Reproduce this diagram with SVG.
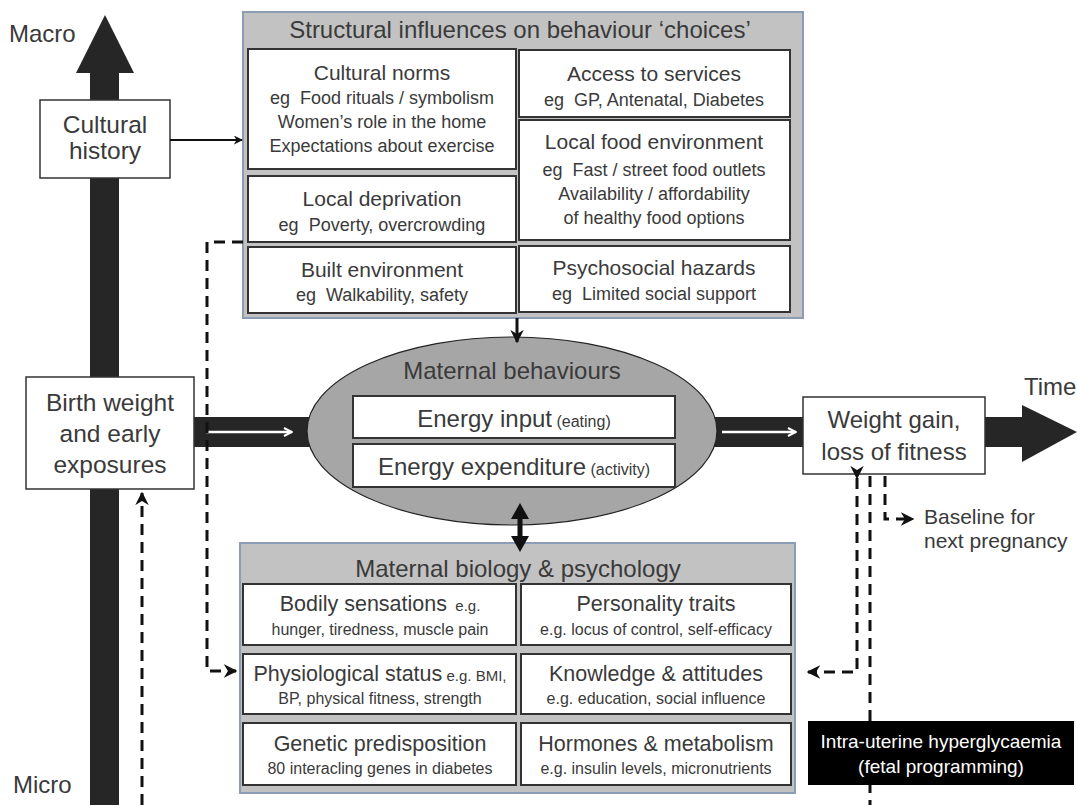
<svg xmlns="http://www.w3.org/2000/svg" width="1077" height="805" viewBox="0 0 1077 805">
<style>
text{font-family:"Liberation Sans",Arial,sans-serif;fill:#3a3a3a;white-space:pre}
.t{font-size:24px}
.big{font-size:24.5px}
.h{font-size:21px}
.s{font-size:18px}
.bh{font-size:21.5px}
.bs{font-size:16px}
.xs{font-size:15px}
.grp{fill:#c2c2c2;stroke:#8c9cb4;stroke-width:2}
.in{fill:#fff;stroke:#333;stroke-width:2}
.dash{fill:none;stroke:#111;stroke-width:3;stroke-dasharray:11 7}
.box{fill:#fff;stroke:#333;stroke-width:1.5}
</style>
<defs>
<marker id="ah" viewBox="0 0 10 10" refX="9" refY="5" markerWidth="4.5" markerHeight="4.5" orient="auto" markerUnits="strokeWidth">
<path d="M0,0 L10,5 L0,10 L3,5 z" fill="#111"/>
</marker>
<marker id="wh" viewBox="0 0 10 10" refX="9" refY="5" markerWidth="4" markerHeight="5" orient="auto" markerUnits="strokeWidth">
<path d="M1,1 L9,5 L1,9" fill="none" stroke="#fff" stroke-width="2"/>
</marker>
</defs>
<rect width="1077" height="805" fill="#fff"/>
<g id="axes">
<rect x="90" y="70" width="29" height="735" fill="#262626"/>
<polygon points="76,73 105,15 134,73" fill="#262626"/>
<rect x="194" y="417" width="116" height="30" fill="#262626"/>
<rect x="714" y="417" width="90" height="30" fill="#262626"/>
<rect x="984" y="417" width="42" height="30" fill="#262626"/>
<polygon points="1022,405 1077,432 1022,462" fill="#262626"/>
<text x="9" y="42" class="t">Macro</text>
<text x="13" y="793" class="t">Micro</text>
<text x="1024" y="395" class="t">Time</text>
</g>
<g id="cultural-history">
<rect x="40" y="100" width="130" height="78" class="box"/>
<text x="105" y="133" class="big" text-anchor="middle">Cultural</text>
<text x="105" y="159" class="big" text-anchor="middle">history</text>
</g>
<g id="structural">
<rect x="243" y="12" width="560" height="306" class="grp"/>
<text x="520" y="38" class="t" text-anchor="middle">Structural influences on behaviour ‘choices’</text>
<g id="cultural-norms">
<rect x="248" y="49" width="268" height="120" class="in"/>
<text x="382" y="80" class="h" text-anchor="middle">Cultural norms</text>
<text x="382" y="104" class="s" text-anchor="middle">eg  Food rituals / symbolism</text>
<text x="382" y="128" class="s" text-anchor="middle">Women’s role in the home</text>
<text x="382" y="152" class="s" text-anchor="middle">Expectations about exercise</text>
</g>
<g id="local-deprivation">
<rect x="248" y="176" width="268" height="66" class="in"/>
<text x="382" y="206" class="h" text-anchor="middle">Local deprivation</text>
<text x="382" y="231" class="s" text-anchor="middle">eg  Poverty, overcrowding</text>
</g>
<g id="built-environment">
<rect x="248" y="247" width="268" height="66" class="in"/>
<text x="382" y="277" class="h" text-anchor="middle">Built environment</text>
<text x="382" y="301" class="s" text-anchor="middle">eg  Walkability, safety</text>
</g>
<g id="access-services">
<rect x="519" y="50" width="271" height="67" class="in"/>
<text x="654" y="81" class="h" text-anchor="middle">Access to services</text>
<text x="654" y="106" class="s" text-anchor="middle">eg  GP, Antenatal, Diabetes</text>
</g>
<g id="local-food">
<rect x="519" y="120" width="271" height="120" class="in"/>
<text x="654" y="149" class="h" text-anchor="middle">Local food environment</text>
<text x="654" y="176" class="s" text-anchor="middle">eg  Fast / street food outlets</text>
<text x="654" y="200" class="s" text-anchor="middle">Availability / affordability</text>
<text x="654" y="224" class="s" text-anchor="middle">of healthy food options</text>
</g>
<g id="psychosocial">
<rect x="519" y="246" width="271" height="66" class="in"/>
<text x="654" y="275" class="h" text-anchor="middle">Psychosocial hazards</text>
<text x="654" y="300" class="s" text-anchor="middle">eg  Limited social support</text>
</g>
</g>
<g id="birth-weight">
<rect x="26" y="377" width="168" height="112" class="box"/>
<text x="110" y="411" class="big" text-anchor="middle">Birth weight</text>
<text x="110" y="442" class="big" text-anchor="middle">and early</text>
<text x="110" y="473" class="big" text-anchor="middle">exposures</text>
</g>
<g id="maternal-behaviours">
<ellipse cx="512" cy="431" rx="205" ry="94" fill="#a6a6a6" stroke="#222" stroke-width="1.2"/>
<text x="512" y="379" class="t" text-anchor="middle">Maternal behaviours</text>
<rect x="353" y="396" width="322" height="42" class="in"/>
<text x="514" y="427" text-anchor="middle"><tspan style="font-size:24px">Energy input</tspan><tspan style="font-size:16px"> (eating)</tspan></text>
<rect x="353" y="444" width="322" height="43" class="in"/>
<text x="514" y="475" text-anchor="middle"><tspan style="font-size:24px">Energy expenditure</tspan><tspan style="font-size:16px"> (activity)</tspan></text>
</g>
<g id="weight-gain">
<rect x="803" y="397" width="182" height="77" class="box"/>
<text x="894" y="428" class="t" text-anchor="middle">Weight gain,</text>
<text x="894" y="460" class="t" text-anchor="middle">loss of fitness</text>
</g>
<g id="baseline">
<text x="924" y="524" style="font-size:21px">Baseline for</text>
<text x="924" y="548" style="font-size:21px">next pregnancy</text>
</g>
<g id="biology">
<rect x="240" y="543" width="555" height="250" class="grp"/>
<text x="518" y="577" class="t" text-anchor="middle">Maternal biology &amp; psychology</text>
<g id="bodily">
<rect x="243" y="584" width="273" height="61" class="in"/>
<text x="380" y="611" text-anchor="middle"><tspan class="bh">Bodily sensations</tspan><tspan class="xs">  e.g.</tspan></text>
<text x="380" y="635" class="bs" text-anchor="middle">hunger, tiredness, muscle pain</text>
</g>
<g id="personality">
<rect x="521" y="584" width="270" height="61" class="in"/>
<text x="656" y="611" class="bh" text-anchor="middle">Personality traits</text>
<text x="656" y="635" class="bs" text-anchor="middle">e.g. locus of control, self-efficacy</text>
</g>
<g id="physiological">
<rect x="243" y="654" width="273" height="60" class="in"/>
<text x="380" y="681" text-anchor="middle"><tspan class="bh">Physiological status</tspan><tspan class="xs"> e.g. BMI,</tspan></text>
<text x="380" y="704" class="bs" text-anchor="middle">BP, physical fitness, strength</text>
</g>
<g id="knowledge">
<rect x="521" y="654" width="270" height="60" class="in"/>
<text x="656" y="681" class="bh" text-anchor="middle">Knowledge &amp; attitudes</text>
<text x="656" y="704" class="bs" text-anchor="middle">e.g. education, social influence</text>
</g>
<g id="genetic">
<rect x="243" y="723" width="273" height="62" class="in"/>
<text x="380" y="751" class="bh" text-anchor="middle">Genetic predisposition</text>
<text x="380" y="774" class="bs" text-anchor="middle">80 interacling genes in diabetes</text>
</g>
<g id="hormones">
<rect x="521" y="723" width="270" height="62" class="in"/>
<text x="656" y="751" class="bh" text-anchor="middle">Hormones &amp; metabolism</text>
<text x="656" y="774" class="bs" text-anchor="middle">e.g. insulin levels, micronutrients</text>
</g>
</g>
<g id="connectors">
<line x1="170" y1="140" x2="242" y2="140" stroke="#111" stroke-width="2" marker-end="url(#ah)"/>
<line x1="517" y1="318" x2="517" y2="342" stroke="#111" stroke-width="3" marker-end="url(#ah)"/>
<line x1="520" y1="514" x2="520" y2="542" stroke="#111" stroke-width="5"/>
<polygon points="511,519 520,503 529,519" fill="#111"/>
<polygon points="511,536 520,552 529,536" fill="#111"/>
<line x1="206" y1="432" x2="292" y2="432" stroke="#fff" stroke-width="2.5" marker-end="url(#wh)"/>
<line x1="722" y1="432" x2="796" y2="432" stroke="#fff" stroke-width="2.5" marker-end="url(#wh)"/>
<path class="dash" d="M243,242 H207 V671 H236" marker-end="url(#ah)"/>
<path class="dash" d="M142,805 V493" marker-end="url(#ah)"/>
<path class="dash" d="M857,478 V672 H808" marker-start="url(#ah)" marker-end="url(#ah)"/>
<path class="dash" d="M870,476 V805"/>
<path class="dash" d="M885,476 V519 H913" marker-end="url(#ah)"/>
</g>
<g id="intra-uterine">
<rect x="808" y="721" width="266" height="64" fill="#000"/>
<text x="941" y="748" style="font-size:19px;fill:#fff" text-anchor="middle">Intra-uterine hyperglycaemia</text>
<text x="941" y="773" style="font-size:19px;fill:#fff" text-anchor="middle">(fetal programming)</text>
</g>
</svg>
